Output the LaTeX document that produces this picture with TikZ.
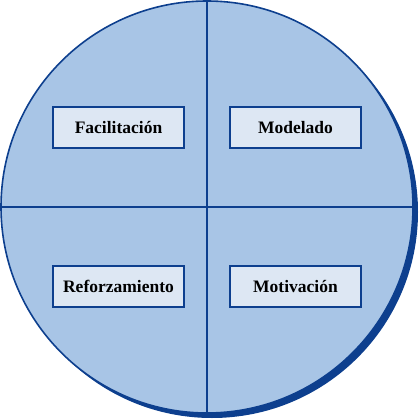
\documentclass[tikz,border=0pt]{standalone}
\usepackage{fontspec}
\setmainfont{Liberation Serif}
\definecolor{dblue}{HTML}{0D3F8E}
\definecolor{cfill}{HTML}{A8C5E6}
\definecolor{bfill}{HTML}{DDE7F3}
\tikzset{
  lab/.style={draw=dblue, line width=1.4pt, fill=bfill, minimum width=131pt, minimum height=41pt, inner sep=0pt, font=\fontsize{17.5}{19}\selectfont\bfseries, text=black},
  seg/.style={draw=dblue, line width=1.6pt}
}
\begin{document}
\begin{tikzpicture}[x=1pt,y=-1pt]
\useasboundingbox (0,0) rectangle (420,420);
\fill[dblue] (212,212) circle (206);
\filldraw[fill=cfill, draw=dblue, line width=1.6pt] (207,207) circle (206);
\coordinate (t) at (207,1);
\coordinate (b) at (207,413);
\coordinate (l) at (1,207);
\coordinate (r) at (413,207);
\draw[seg] (t) -- (b);
\draw[seg] (l) -- (r);
\node[lab] (fac) at (118.5,127.5) {Facilitación};
\node[lab] (mod) at (295.5,127.5) {Modelado};
\node[lab] (ref) at (118.5,286.5) {Reforzamiento};
\node[lab] (mot) at (295.5,286.5) {Motivación};
\end{tikzpicture}
\end{document}
